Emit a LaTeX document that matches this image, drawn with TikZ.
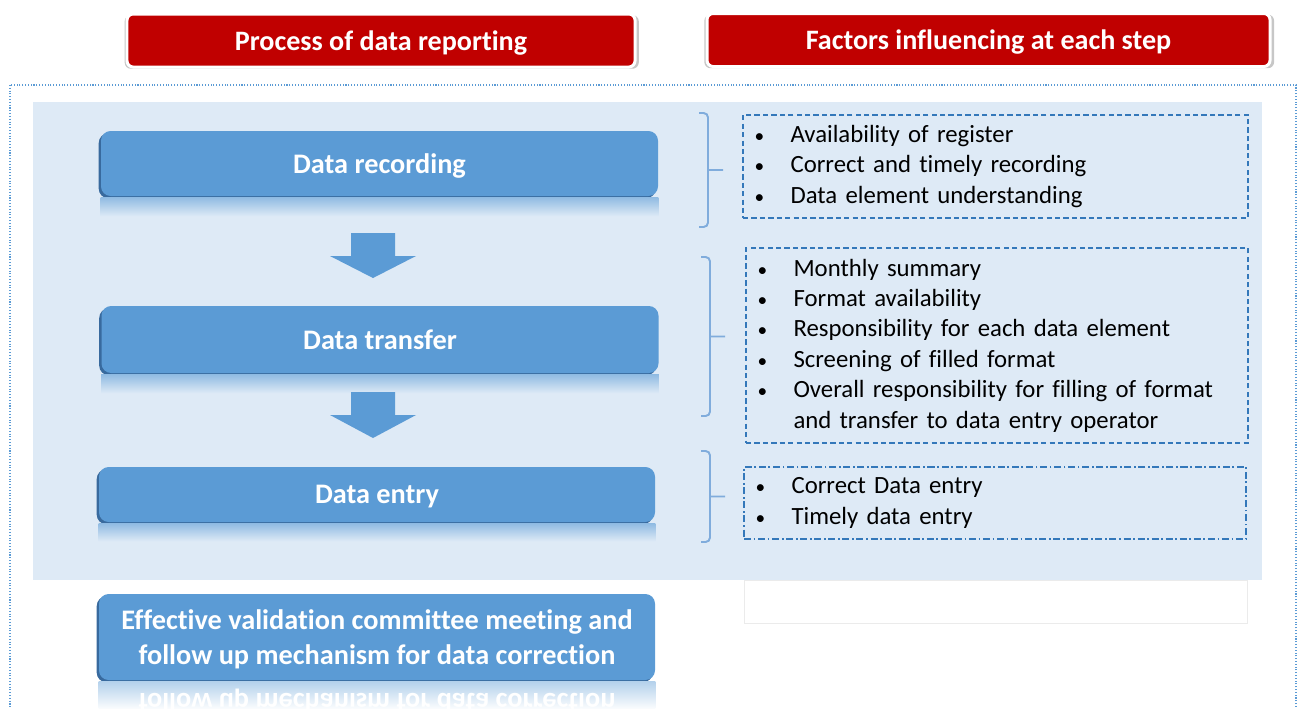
\documentclass[tikz,border=0pt]{standalone}
\usepackage{fontspec}
\setmainfont{Carlito}[Ligatures=NoCommon]
\usetikzlibrary{shadows}
\definecolor{hdrred}{RGB}{192,0,0}
\definecolor{stepblue}{RGB}{91,155,213}
\definecolor{stepedge}{RGB}{56,106,158}
\definecolor{panelblue}{RGB}{222,234,246}
\definecolor{linkblue}{RGB}{52,120,186}
\definecolor{braceblue}{RGB}{128,172,220}
\def\pxl{0.02cm}
\def\factorbrace(#1:#2:#3){\draw[brace line] (#1-9,#2) -- (#1,#2) -- (#1,#3) -- (#1-9,#3) (#1,{(#2+#3)/2}) -- (#1+15,{(#2+#3)/2});}
\def\blockarrow(#1)(#2:#3){\fill[stepblue] (#1) ++(-22,0) -- ++(44,0) -- ++(0,#2) -- ++(21,0) -- ++(-43,#3) -- ++(-43,-#3) -- ++(21,0) -- cycle;}
\newcommand\fitem[1]{\makebox[20.5pt][l]{\fontsize{11}{11}\selectfont\textbullet}#1}

\begin{document}
\begin{tikzpicture}[x=\pxl,y=-\pxl,
	header/.style={fill=hdrred, draw=white, line width=1.7pt, rounded corners=3.5pt, text=white, text depth=0pt,
		general shadow={fill=black!22, shadow scale=1.012, shadow xshift=0.4pt, shadow yshift=-0.8pt},
		font=\bfseries\fontsize{16}{19}\selectfont, minimum height=53*\pxl},
	step box/.style={fill=stepblue, rounded corners=5.5pt, text=white, align=center, text depth=0pt,
		general shadow={fill=stepedge, shadow xshift=-1.3pt, shadow yshift=-1.3pt},
		font=\bfseries\fontsize{16.1}{19.8}\selectfont, minimum width=557*\pxl},
	factor box/.style={draw=linkblue, line width=0.7pt, inner xsep=6pt, align=left, text=black,
		font=\fontsize{14.1}{17.3}\selectfont},
	brace line/.style={draw=braceblue, line width=1.1pt, rounded corners=2.5pt},
	glow/.style={top color=stepblue!58!panelblue, bottom color=panelblue}]
				%%%%% START %%%%%
				\useasboundingbox (0,0) rectangle (1298,708);
				\clip (0,0) rectangle (1298,708);
				
				\draw[stepblue, densely dotted, line width=0.6pt] (10,85) rectangle (1296,720);
				\fill[panelblue] (33,102) rectangle (1262,580);
				\draw[black!8, fill=white] (744,580) rectangle (1247,623);
				
				\node[header, minimum width=508*\pxl] (hproc) at (381,40.5) {Process of data reporting};
				\node[header, minimum width=563*\pxl] (hfact) at (988.5,40) {Factors influencing at each step};
				
				\node[step box, minimum height=65*\pxl] (rec) at (379.5,163.5) {Data recording};
				\node[step box, minimum height=67*\pxl] (trans) at (380,339.5) {Data transfer};
				\node[step box, minimum height=55*\pxl, minimum width=556*\pxl] (entry) at (377,494.5) {Data entry};
				\node[step box, minimum height=86*\pxl, minimum width=556*\pxl] (valid) at (377,637) {Effective validation committee meeting and\\follow up mechanism for data correction};
				
				\fill[glow] ([yshift=-1.5*\pxl]rec.south west) rectangle ([yshift=-20*\pxl]rec.south east);
				\fill[glow] ([yshift=-1.5*\pxl]trans.south west) rectangle ([yshift=-20*\pxl]trans.south east);
				\fill[glow] ([yshift=-1.5*\pxl]entry.south west) rectangle ([yshift=-19*\pxl]entry.south east);
				\fill[top color=stepblue!45, bottom color=white] ([yshift=-1.5*\pxl]valid.south west) rectangle ([yshift=-30*\pxl]valid.south east);
				\node[text=white, font=\bfseries\fontsize{16.1}{19.8}\selectfont, yscale=-1] (validmirror) at (377,701) {follow up mechanism for data correction};
				
				\coordinate (arr1) at (373,233);
				\coordinate (arr2) at (373,392);
				\blockarrow(arr1)(23:22)
				\blockarrow(arr2)(23:23)
				
				\factorbrace(708:113:227)
				\factorbrace(710:257:416)
				\factorbrace(710:451:542)
				
				\node[factor box, dash pattern=on 3pt off 1.8pt, minimum width=505*\pxl, minimum height=103*\pxl, text width=274.3pt] (frec) at (995.5,166.5)
					{\fitem{Availability of register}\\ \fitem{Correct and timely recording}\\ \fitem{Data element understanding}};
				\node[factor box, dash pattern=on 3pt off 1.8pt, minimum width=502*\pxl, minimum height=195*\pxl, text width=272.6pt] (ftrans) at (997,345.5)
					{\fitem{Monthly summary}\\ \fitem{Format availability}\\ \fitem{Responsibility for each data element}\\ \fitem{Screening of filled format}\\
					 \fitem{Overall responsibility for filling of format}\\ \makebox[20.5pt]{}and transfer to data entry operator};
				\node[factor box, dash pattern=on 4pt off 1.5pt on 1pt off 1.5pt, minimum width=502*\pxl, minimum height=72*\pxl, text width=272.6pt] (fentry) at (995,503)
					{\fitem{Correct Data entry}\\ \fitem{Timely data entry}};
				%%%%% END %%%%%
\end{tikzpicture}
\end{document}
